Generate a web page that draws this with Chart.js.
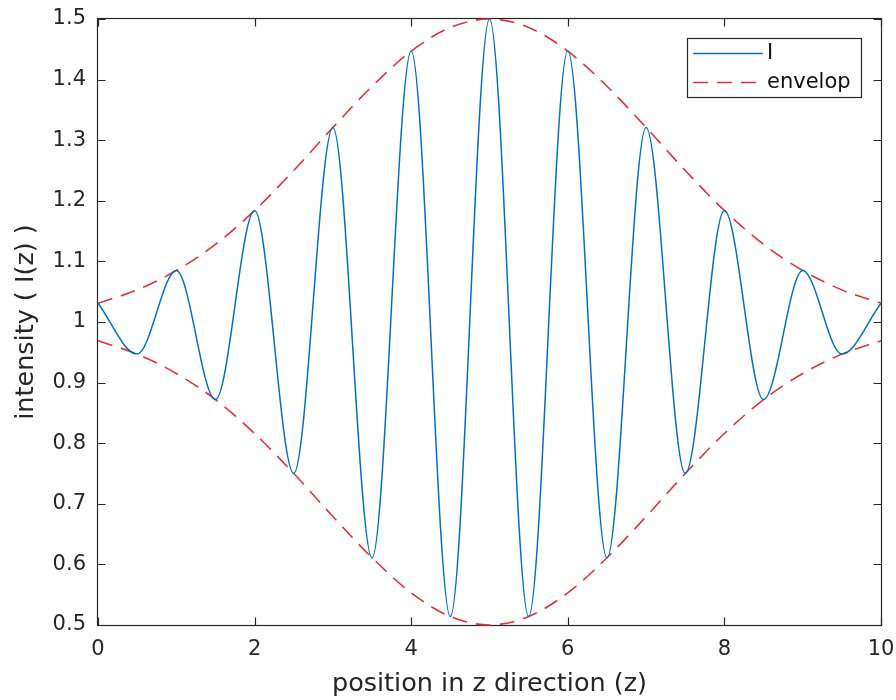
<!DOCTYPE html>
<html>
<head>
<meta charset="utf-8">
<script src="https://cdn.jsdelivr.net/npm/chart.js@4/dist/chart.umd.min.js"></script>
<style>
  html, body { margin: 0; padding: 0; background: #fff; }
  #wrap { position: relative; width: 896px; height: 700px; }
</style>
</head>
<body>
<div id="wrap"><canvas id="intensityChart"></canvas></div>
<script>
// --- DATA ---
// positions of the maxima / minima of I(z)
const zPos = [0, 0.5, 1, 1.5, 2, 2.5, 3, 3.5, 4, 4.5, 5, 5.5, 6, 6.5, 7, 7.5, 8, 8.5, 9, 9.5, 10];
const intensity = [1.031, 0.947, 1.085, 0.872, 1.184, 0.750, 1.321, 0.611, 1.447, 0.514, 1.500,
                   0.514, 1.447, 0.611, 1.321, 0.750, 1.184, 0.872, 1.085, 0.947, 1.031];
const envelopeUpper = [1.031, 1.053, 1.085, 1.128, 1.184, 1.250, 1.321, 1.389, 1.447, 1.486, 1.500,
                       1.486, 1.447, 1.389, 1.321, 1.250, 1.184, 1.128, 1.085, 1.053, 1.031];
const envelopeLower = [0.969, 0.947, 0.915, 0.872, 0.816, 0.750, 0.679, 0.611, 0.553, 0.514, 0.500,
                       0.514, 0.553, 0.611, 0.679, 0.750, 0.816, 0.872, 0.915, 0.947, 0.969];
const xTicks = [0, 2, 4, 6, 8, 10];
const yTicks = [0.5, 0.6, 0.7, 0.8, 0.9, 1, 1.1, 1.2, 1.3, 1.4, 1.5];

const BLUE = '#0072bd';
const RED = '#e3303e';
const AXIS = '#262626';
const FONT = "'DejaVu Sans', sans-serif";
const DASH = [15, 9];

const toXY = (xs, ys) => xs.map((x, i) => ({ x: x, y: ys[i] }));

// frame on all four sides with inward ticks
const axesBox = {
  id: 'axesBox',
  beforeDatasetsDraw(chart) {
    const { ctx, chartArea: a, scales } = chart;
    const L = a.left - 0.5, R = a.right + 0.5, T = a.top - 0.5, B = a.bottom + 0.5;
    const tick = 8;
    ctx.save();
    ctx.strokeStyle = AXIS;
    ctx.lineWidth = 1.2;
    ctx.strokeRect(L, T, R - L, B - T);
    ctx.beginPath();
    xTicks.forEach(v => {
      const px = Math.round(scales.x.getPixelForValue(v)) + 0.5;
      ctx.moveTo(px, B); ctx.lineTo(px, B - tick);
      ctx.moveTo(px, T); ctx.lineTo(px, T + tick);
    });
    yTicks.forEach(v => {
      const py = Math.round(scales.y.getPixelForValue(v)) + 0.5;
      ctx.moveTo(L, py); ctx.lineTo(L + tick, py);
      ctx.moveTo(R, py); ctx.lineTo(R - tick, py);
    });
    ctx.stroke();
    ctx.restore();
  }
};

// boxed legend in the upper right corner of the axes
const boxLegend = {
  id: 'boxLegend',
  afterDraw(chart) {
    const { ctx, chartArea: a } = chart;
    const w = 174, h = 59;
    const left = a.right - 194, top = a.top + 19;
    const entries = chart.data.datasets.filter(d => !d.hideInLegend);
    ctx.save();
    ctx.fillStyle = '#fff';
    ctx.fillRect(left, top, w, h);
    ctx.strokeStyle = AXIS;
    ctx.lineWidth = 1.2;
    ctx.strokeRect(left + 0.5, top + 0.5, w, h);
    ctx.font = '21px ' + FONT;
    ctx.textBaseline = 'middle';
    entries.forEach((d, i) => {
      const y = top + 15.5 + i * 29;
      ctx.beginPath();
      ctx.strokeStyle = d.borderColor;
      ctx.lineWidth = d.borderWidth;
      ctx.setLineDash(d.borderDash || []);
      ctx.moveTo(left + 6, y);
      ctx.lineTo(left + 76, y);
      ctx.stroke();
      ctx.setLineDash([]);
      ctx.fillStyle = '#111';
      ctx.fillText(d.label, left + 80, y);
    });
    ctx.restore();
  }
};

const ctx = document.getElementById('intensityChart').getContext('2d');
const intensityChart = new Chart(ctx, {
  type: 'line',
  data: {
    datasets: [
      {
        label: 'I',
        data: toXY(zPos, intensity),
        borderColor: BLUE,
        borderWidth: 1.5,
        pointRadius: 0,
        cubicInterpolationMode: 'monotone',
        clip: 4
      },
      {
        label: 'envelop',
        data: toXY(zPos, envelopeUpper),
        borderColor: RED,
        borderWidth: 1.6,
        borderDash: DASH,
        pointRadius: 0,
        cubicInterpolationMode: 'monotone',
        clip: 4
      },
      {
        label: 'envelop',
        hideInLegend: true,
        data: toXY(zPos, envelopeLower),
        borderColor: RED,
        borderWidth: 1.6,
        borderDash: DASH,
        pointRadius: 0,
        cubicInterpolationMode: 'monotone',
        clip: 4
      }
    ]
  },
  options: {
    responsive: true,
    maintainAspectRatio: false,
    animation: false,
    layout: { padding: { top: 19, right: 15, left: 0, bottom: 0 } },
    plugins: {
      legend: { display: false },
      tooltip: { enabled: false }
    },
    scales: {
      x: {
        type: 'linear',
        min: 0,
        max: 10,
        afterBuildTicks: s => { s.ticks = xTicks.map(v => ({ value: v })); },
        afterFit: s => { s.height = 75; s.paddingLeft = 0; s.paddingRight = 0; },
        grid: { display: false, drawTicks: false },
        border: { display: false },
        ticks: {
          padding: 12,
          color: AXIS,
          font: { family: FONT, size: 21 },
          maxRotation: 0,
          callback: v => String(v)
        },
        title: {
          display: true,
          text: 'position in z direction (z)',
          color: AXIS,
          font: { family: FONT, size: 25.5 },
          padding: { top: 0, bottom: 0 }
        }
      },
      y: {
        type: 'linear',
        min: 0.5,
        max: 1.5,
        afterBuildTicks: s => { s.ticks = yTicks.map(v => ({ value: v })); },
        afterFit: s => { s.width = 98; s.paddingTop = 0; s.paddingBottom = 0; },
        grid: { display: false, drawTicks: false },
        border: { display: false },
        ticks: {
          padding: 12,
          color: AXIS,
          font: { family: FONT, size: 21 },
          callback: v => String(+v.toFixed(1))
        },
        title: {
          display: true,
          text: 'intensity ( I(z) )',
          color: AXIS,
          font: { family: FONT, size: 25.5 },
          padding: { top: 11, bottom: 0 }
        }
      }
    }
  },
  plugins: [axesBox, boxLegend]
});
</script>
</body>
</html>
